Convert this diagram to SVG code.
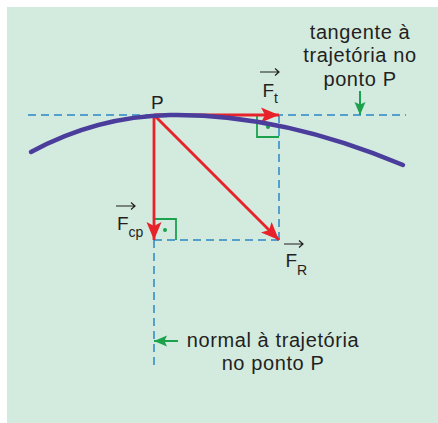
<svg xmlns="http://www.w3.org/2000/svg" width="438" height="423" viewBox="0 0 438 423">
  <style>
    .txt { font-family: "Liberation Sans", Arial, sans-serif; fill: #231f20; }
    .lbl { font-size: 20px; letter-spacing: 0.6px; }
    .f { font-size: 19px; }
    .sub { font-size: 14px; }
    .dash { fill: none; stroke: #2b87c6; stroke-width: 1.5; stroke-dasharray: 8 5; }
    .force { fill: none; stroke: #e8222a; stroke-width: 2.8; }
    .ang { fill: none; stroke: #1ba24d; stroke-width: 1.8; }
    .vec { fill: none; stroke: #231f20; stroke-width: 1.2; }
    .gptr { fill: none; stroke: #1ba24d; stroke-width: 2; }
  </style>
  <defs>
    <marker id="redHead" markerUnits="userSpaceOnUse" markerWidth="19" markerHeight="16" refX="18" refY="8" orient="auto" viewBox="0 0 19 16">
      <path d="M0,0.5 L18,8 L0,15.5 L4,8 z" fill="#e8222a"/>
    </marker>
    <marker id="greenHead" markerUnits="userSpaceOnUse" markerWidth="14" markerHeight="12" refX="13" refY="6" orient="auto" viewBox="0 0 14 12">
      <path d="M0,0.5 L13,6 L0,11.5 L2.5,6 z" fill="#1ba24d"/>
    </marker>
  </defs>

  <rect x="7" y="7" width="431" height="416" fill="#d3eadf"/>

  <g id="connectors">
    <path class="dash" d="M28,115 H406"/>
    <path class="dash" d="M279,115 V240"/>
    <path class="dash" d="M154,240 H279"/>
    <path class="dash" d="M154,240 V367"/>
  </g>

  <g id="right-angles">
    <path class="ang" d="M257,115 V137 H279"/>
    <circle cx="268" cy="127" r="2" fill="#1ba24d"/>
    <path class="ang" d="M154,219 H176 V240"/>
    <circle cx="165" cy="230" r="2" fill="#1ba24d"/>
  </g>

  <g id="forces">
    <path class="force" d="M154,115 H279" marker-end="url(#redHead)"/>
    <path class="force" d="M154,115 V240" marker-end="url(#redHead)"/>
    <path class="force" d="M154,115 L279,240" marker-end="url(#redHead)"/>
  </g>

  <g id="trajectory">
    <path d="M31,152 C75,128 120,116 170,115 C240,114 320,130 403,165" fill="none" stroke="#4a3d9c" stroke-width="4.5" stroke-linecap="round"/>
  </g>

  <g id="point-P">
    <text class="txt f" x="151" y="109">P</text>
  </g>

  <g id="label-Ft">
    <path class="vec" d="M260,72 H279 M275,68.5 L279,72 L275,75.5"/>
    <text class="txt f" x="262.5" y="97">F<tspan class="sub" dy="6">t</tspan></text>
  </g>

  <g id="label-Fcp">
    <path class="vec" d="M116,206 H135 M131,202.5 L135,206 L131,209.5"/>
    <text class="txt f" x="117" y="229.5">F<tspan class="sub" dy="7.5">cp</tspan></text>
  </g>

  <g id="label-FR">
    <path class="vec" d="M284,244 H303 M299,240.5 L303,244 L299,247.5"/>
    <text class="txt f" x="285.5" y="267">F<tspan class="sub" dy="8">R</tspan></text>
  </g>

  <g id="tangent-note">
    <text class="txt lbl" text-anchor="middle" x="360" y="39">tangente à</text>
    <text class="txt lbl" text-anchor="middle" x="360" y="62">trajetória no</text>
    <text class="txt lbl" text-anchor="middle" x="360" y="86">ponto P</text>
    <path class="gptr" d="M360,91 V115" marker-end="url(#greenHead)"/>
  </g>

  <g id="normal-note">
    <path class="gptr" d="M178,341 H154" marker-end="url(#greenHead)"/>
    <text class="txt lbl" text-anchor="middle" x="273" y="347">normal à trajetória</text>
    <text class="txt lbl" text-anchor="middle" x="273" y="370">no ponto P</text>
  </g>
</svg>
